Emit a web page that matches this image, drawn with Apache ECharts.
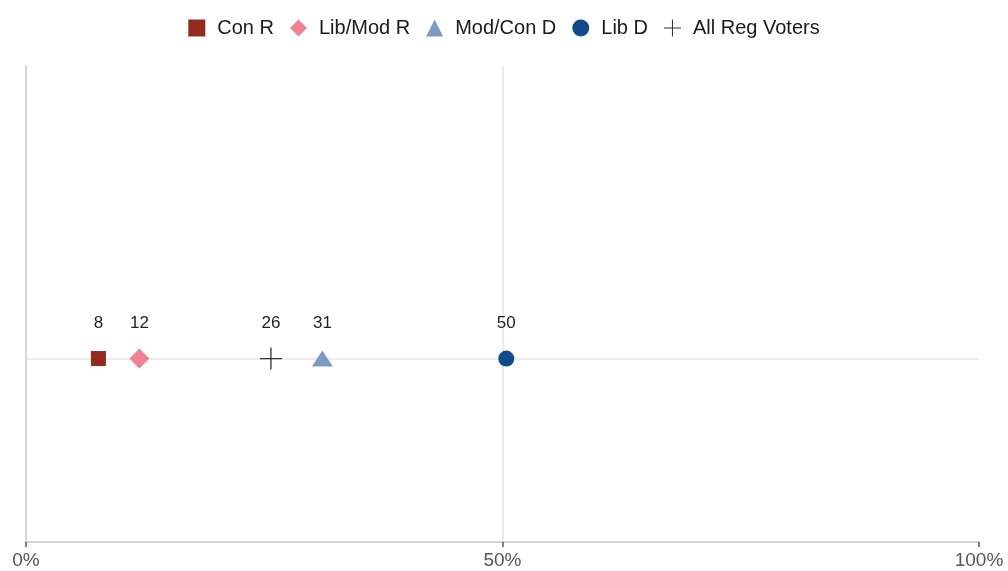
<!DOCTYPE html>
<html>
<head>
<meta charset="utf-8">
<script src="https://cdn.jsdelivr.net/npm/echarts@6/dist/echarts.min.js"></script>
<style>
html,body{margin:0;padding:0;background:#fff;}
#chart{width:1008px;height:571px;}
</style>
</head>
<body>
<div id="chart"></div>
<script>
// Data
const groups = ['Con R', 'Lib/Mod R', 'Mod/Con D', 'Lib D', 'All Reg Voters'];
const values = [7.6, 11.9, 31.1, 50.4, 25.7];
const labels = ['8', '12', '31', '50', '26'];
const xTickLabels = ['0%', '50%', '100%'];

const colors = ['#952A1E', '#EF8290', '#7D9BC1', '#134A8C', '#333333'];
const plusPath = 'path://M9.4,0h1.2v9.4h9.4v1.2h-9.4v9.4h-1.2v-9.4h-9.4v-1.2h9.4z';
const symbols = ['rect', 'diamond', 'triangle', 'circle', plusPath];
const sizes = [[15, 15], [20, 20], [21, 16], [16, 16], [22, 22]];
const FONT = 'Liberation Sans, Arial, sans-serif';

const series = groups.map((g, i) => ({
  name: g,
  type: 'scatter',
  symbol: symbols[i],
  symbolSize: sizes[i],
  itemStyle: { color: colors[i], opacity: 1 },
  z: i === 4 ? 3 : 4,
  label: {
    show: true,
    position: 'inside',
    offset: [0, -35],
    formatter: () => labels[i],
    color: '#222',
    fontSize: 17,
    fontFamily: FONT
  },
  data: [[values[i], 0]],
  markLine: i === 0 ? {
    silent: true,
    symbol: ['none', 'none'],
    label: { show: false },
    lineStyle: { color: '#e6e6e6', width: 1.5, type: 'solid' },
    data: [{ yAxis: 0 }],
    z: 1
  } : undefined
}));

const chart = echarts.init(document.getElementById('chart'), null, { renderer: 'canvas' });
chart.setOption({
  animation: false,
  backgroundColor: '#fff',
  textStyle: { fontFamily: FONT },
  legend: {
    top: 13,
    left: 'center',
    itemWidth: 17,
    itemHeight: 17,
    itemGap: 16,
    textStyle: { fontSize: 20, color: '#1a1a1a', fontFamily: FONT, padding: [0, 0, 0, 7] },
    data: groups.map((g, i) => ({ name: g, icon: symbols[i], itemStyle: { color: colors[i] } }))
  },
  grid: { left: 26, right: 29, top: 65, bottom: 29, containLabel: false },
  xAxis: {
    type: 'value',
    min: 0,
    max: 100,
    interval: 50,
    axisLine: { show: true, onZero: false, lineStyle: { color: '#c8c8c8', width: 1.5 } },
    axisTick: { show: true, length: 5, lineStyle: { color: '#555', width: 1.5 } },
    axisLabel: {
      formatter: v => xTickLabels[Math.round(v / 50)],
      color: '#555',
      fontSize: 19,
      margin: 9,
      fontFamily: FONT
    },
    splitLine: { show: true, lineStyle: { color: ['#c8c8c8', '#e6e6e6', 'rgba(0,0,0,0)'], width: 1.5 } }
  },
  yAxis: {
    type: 'value',
    min: -1,
    max: 1.6,
    show: true,
    axisLine: { show: false },
    axisTick: { show: false },
    axisLabel: { show: false },
    splitLine: { show: false }
  },
  series: series
});
</script>
</body>
</html>
